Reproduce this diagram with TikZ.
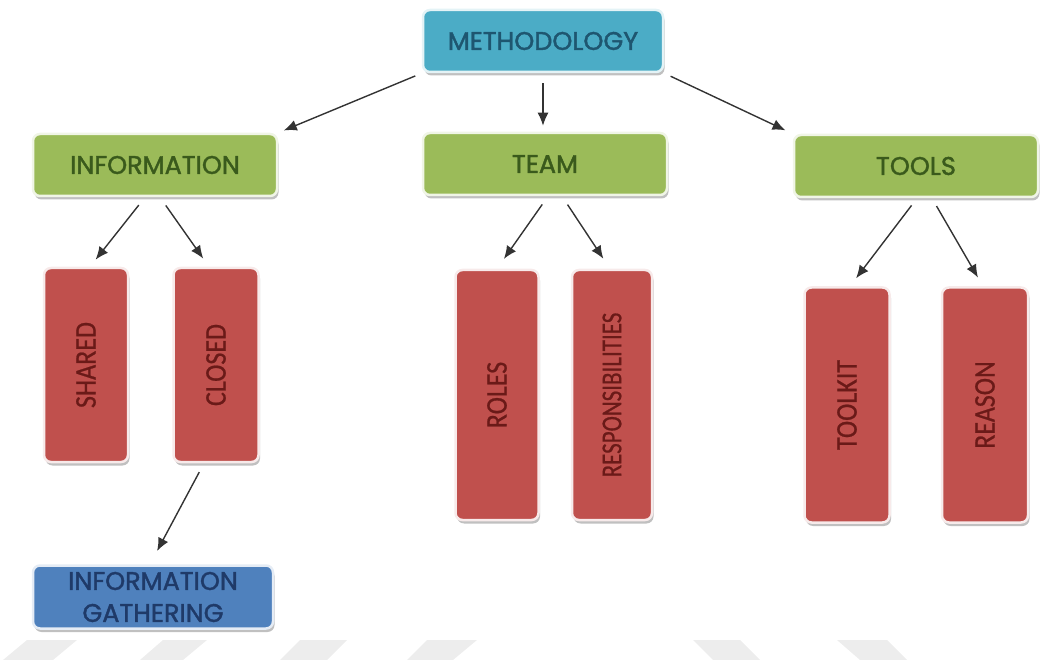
\documentclass[tikz,border=0pt]{standalone}
\usepackage{fontspec}
\setmainfont{Poppins}
\newfontfamily\hdfont{Poppins}[FakeBold=1.6]
\newfontfamily\redfont{Carlito}[FakeBold=0.8]
\usetikzlibrary{shadows,arrows.meta}
\definecolor{mblue}{HTML}{4BACC6}
\definecolor{mgreen}{HTML}{9BBB59}
\definecolor{mred}{HTML}{C0504D}
\definecolor{gblue}{HTML}{4F81BD}
\definecolor{tblue}{HTML}{1E5670}
\definecolor{tgreen}{HTML}{3A5A1C}
\definecolor{tred}{HTML}{6A1A18}
\definecolor{tnavy}{HTML}{1F3A68}
\definecolor{wm}{HTML}{EDEDED}
\tikzset{
  box/.style={rounded corners=7pt, inner sep=0pt, line width=2.5pt,
    drop shadow={shadow xshift=1.5pt, shadow yshift=-3.5pt, fill=black!45, opacity=0.55}},
  topbox/.style={box, fill=mblue, draw=mblue!15, minimum width=240pt, minimum height=62pt,
    font=\hdfont\fontsize{25.5}{28}\selectfont, text=tblue},
  grnbox/.style={box, fill=mgreen, draw=mgreen!15, minimum width=244pt, minimum height=62pt,
    font=\hdfont\fontsize{25.5}{28}\selectfont, text=tgreen},
  redbox/.style={box, fill=mred, draw=mred!12, minimum width=84pt,
    font=\redfont\fontsize{26}{28}\selectfont, text=tred},
  gathbox/.style={box, fill=gblue, draw=gblue!15, minimum width=240pt, minimum height=63pt,
    font=\hdfont\fontsize{25.5}{32}\selectfont, text=tnavy, align=center},
  arr/.style={draw=black!80, line width=1.4pt, -{Latex[length=13pt,width=11pt]}},
  wmark/.style={fill=wm, draw=none}
}
\newcommand{\vtext}[1]{\rotatebox{90}{\scalebox{1}[1.15]{#1}}}
\begin{document}
\begin{tikzpicture}[x=1pt,y=-1pt]
\useasboundingbox (0,0) rectangle (1045,660);
% watermark
\fill[wmark] (3,660) -- (27,640) -- (77,640) -- (53,660) -- cycle;
\fill[wmark] (140,660) -- (163,640) -- (207,640) -- (183,660) -- cycle;
\fill[wmark] (280,660) -- (300,640) -- (347,640) -- (327,660) -- cycle;
\fill[wmark] (407,660) -- (427,640) -- (477,640) -- (453,660) -- cycle;
\fill[wmark] (713,660) -- (693,640) -- (740,640) -- (760,660) -- cycle;
\fill[wmark] (860,660) -- (837,640) -- (887,640) -- (907,660) -- cycle;
% nodes
\node[topbox] (meth) at (543,41) {METHODOLOGY};
\node[grnbox] (info) at (155,165) {INFORMATION};
\node[grnbox] (team) at (545,164) {TEAM};
\node[grnbox] (tools) at (916,166) {TOOLS};
\node[redbox, minimum width=84pt, minimum height=194pt] (shared) at (86,365) {\vtext{SHARED}};
\node[redbox, minimum width=85pt, minimum height=194pt] (closed) at (216,365) {\vtext{CLOSED}};
\node[redbox, minimum width=83pt, minimum height=250pt] (roles) at (497,395) {\vtext{ROLES}};
\node[redbox, minimum width=80pt, minimum height=250pt, font=\redfont\fontsize{23}{26}\selectfont] (resp) at (612,395) {\rotatebox{90}{\scalebox{1}[1.25]{RESPONSIBILITIES}}};
\node[redbox, minimum width=85pt, minimum height=235pt] (toolkit) at (847,405) {\vtext{TOOLKIT}};
\node[redbox, minimum width=86pt, minimum height=235pt] (reason) at (985,405) {\vtext{REASON}};
\node[gathbox] (gath) at (153,597) {INFORMATION\\GATHERING};
% connectors
\draw[arr, shorten <=7pt, shorten >=6pt] (meth.south west) -- (info.north east);
\draw[arr, shorten <=10pt, shorten >=6pt] (meth.south) -- (meth.south |- team.north);
\draw[arr, shorten <=7pt, shorten >=8pt] (meth.south east) -- (tools.north west);
\draw[arr, shorten <=10pt, shorten >=9pt] ([xshift=-10pt]info.south) -- ([xshift=4pt]shared.north);
\draw[arr, shorten <=10pt, shorten >=10pt] ([xshift=5pt]info.south) -- ([xshift=-7pt]closed.north);
\draw[arr, shorten <=10pt, shorten >=12pt] ([xshift=3pt]team.south) -- (roles.north);
\draw[arr, shorten <=10pt, shorten >=12pt] ([xshift=17pt]team.south) -- ([xshift=-2pt]resp.north);
\draw[arr, shorten <=9pt, shorten >=10pt] ([xshift=1pt]tools.south) -- ([xshift=3pt]toolkit.north);
\draw[arr, shorten <=9pt, shorten >=10pt] ([xshift=16pt]tools.south) -- ([xshift=-2pt]reason.north);
\draw[arr, shorten <=10pt, shorten >=15pt] ([xshift=-12pt]closed.south) -- ([xshift=-3pt]gath.north);
\end{tikzpicture}
\end{document}
